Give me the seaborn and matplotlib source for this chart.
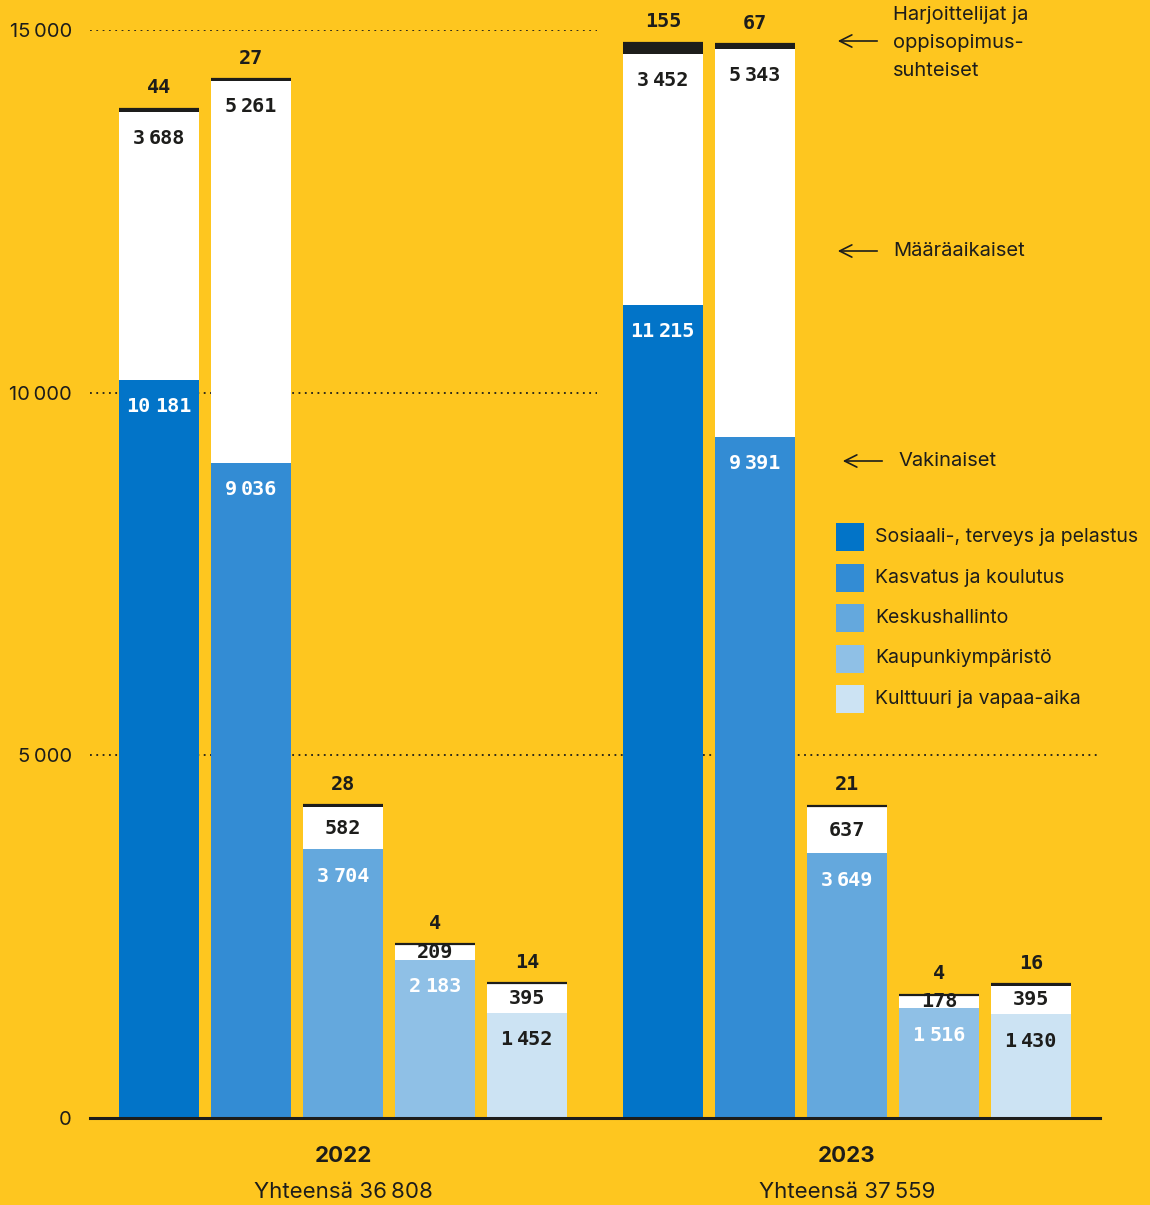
import numpy as np
import pandas as pd
import matplotlib
matplotlib.use("Agg")
import matplotlib.pyplot as plt
from matplotlib.patches import Rectangle
import seaborn as sns

# data
years = ["2022", "2023"]
totals_text = ["Yhteensä 36\u2009808", "Yhteensä 37\u2009559"]
categories = ["Sosiaali-, terveys ja pelastus", "Kasvatus ja koulutus",
              "Keskushallinto", "Kaupunkiympäristö", "Kulttuuri ja vapaa-aika"]
vak_2022 = [10181, 9036, 3704, 2183, 1452]
vak_2023 = [11215, 9391, 3649, 1516, 1430]
maa_2022 = [3688, 5261, 582, 209, 395]
maa_2023 = [3452, 5343, 637, 178, 395]
harj_2022 = [44, 27, 28, 4, 14]
harj_2023 = [155, 67, 21, 4, 16]

palette = ["#0274c8", "#338cd4", "#64a8dd", "#8fc0e6", "#cce3f3"]
BG = "#fec61f"
DARK = "#1d1d1b"

rows = []
for g, (vak, maa, harj) in enumerate([(vak_2022, maa_2022, harj_2022),
                                      (vak_2023, maa_2023, harj_2023)]):
    for i, cat in enumerate(categories):
        rows.append(dict(year=years[g], cat=cat, pos=g * 5.48 + i,
                         vak=vak[i], maa=maa[i], harj=harj[i]))
df = pd.DataFrame(rows)
df["white_top"] = df["vak"] + df["maa"]
df["total"] = df["white_top"] + df["harj"]

sns.set_style("white")
plt.rcParams["font.family"] = ["Inter", "DejaVu Sans"]

W, H = 1150, 1205
fig = plt.figure(figsize=(W / 100, H / 100), dpi=100, facecolor=BG)
ax = fig.add_axes([90 / W, 87 / H, 1010 / W, 1088 / H], facecolor=BG)

bw = 80 / 92
common = dict(data=df, x="pos", native_scale=True, width=bw, errorbar=None,
              saturation=1, linewidth=0, edgecolor="none", ax=ax)
sns.barplot(y="total", color=DARK, **common)
sns.barplot(y="white_top", color="white", **common)
sns.barplot(y="vak", hue="cat", palette=palette, dodge=False, legend=False, **common)

ax.set_xlim(-0.75, 10.23)
ax.set_ylim(0, 15000)

# black top line so the tiny segments stay visible
ax.hlines(df["total"], df["pos"] - bw / 2, df["pos"] + bw / 2, color=DARK, lw=1.6, zorder=3)

# dotted grid
gl = dict(color=DARK, lw=1.3, linestyles=(0, (1, 2.5)), zorder=0.5)
ax.hlines([10000, 15000], -0.75, 4.76, **gl)
ax.hlines(5000, -0.75, 10.23, **gl)

ax.set_yticks([0, 5000, 10000, 15000])
ax.set_yticklabels(["0", "5\u2009000", "10\u2009000", "15\u2009000"])
ax.tick_params(axis="y", length=0, pad=13, labelsize=14.5, labelcolor=DARK)
ax.set_xticks([])
ax.set_xlabel("")
ax.set_ylabel("")
for s in ["top", "right", "left"]:
    ax.spines[s].set_visible(False)
ax.spines["bottom"].set_color(DARK)
ax.spines["bottom"].set_linewidth(2.2)
ax.spines["bottom"].set_zorder(4)

px_per_unit = 1088 / 15000
FS = 14.5
CW = 0.602 * FS          # mono glyph advance in points
GAP = 0.38 * CW          # narrow thousands gap


def put_num(x, y, v, dy_px, color):
    kw = dict(textcoords="offset points", va="center", color=color, fontsize=FS,
              fontweight="bold", family=["DejaVu Sans Mono"], annotation_clip=False)
    dy = dy_px * 0.72
    if v < 1000:
        ax.annotate(str(v), (x, y), xytext=(0, dy), ha="center", **kw)
        return
    head, tail = str(v // 1000), f"{v % 1000:03d}"
    width = (len(head) + len(tail)) * CW + GAP
    ax.annotate(head, (x, y), xytext=(-width / 2, dy), ha="left", **kw)
    ax.annotate(tail, (x, y), xytext=(width / 2, dy), ha="right", **kw)


for _, r in df.iterrows():
    i = categories.index(r["cat"])
    put_num(r["pos"], r["vak"], r["vak"], -27, DARK if i == 4 else "white")
    off = min(26, r["maa"] * px_per_unit / 2)
    put_num(r["pos"], r["white_top"], r["maa"], -off, DARK)
    put_num(r["pos"], r["total"], r["harj"], 21, DARK)

# year labels below groups
for g, yr in enumerate(years):
    cx = df.loc[df["year"] == yr, "pos"].mean()
    ax.annotate(yr, (cx, 0), xytext=(0, -38 * 0.72), textcoords="offset points",
                ha="center", va="center", fontsize=16, fontweight="bold",
                color=DARK, annotation_clip=False)
    ax.annotate(totals_text[g], (cx, 0), xytext=(0, -74 * 0.72), textcoords="offset points",
                ha="center", va="center", fontsize=16, color=DARK,
                annotation_clip=False)


def fp(x, y):
    return (x / W, 1 - y / H)


arrow = dict(arrowstyle="->", lw=1.2, color=DARK, mutation_scale=22)
notes = [(["Harjoittelijat ja", "oppisopimus-", "suhteiset"], 893, 15, 41, 835),
         (["Määräaikaiset"], 893, 251, 251, 835),
         (["Vakinaiset"], 898, 461, 461, 840)]
for lines, tx, ty, ay, ax0 in notes:
    for k, line in enumerate(lines):
        fig.text(*fp(tx, ty + 28 * k), line, fontsize=14.5, color=DARK,
                 ha="left", va="center")
    ax.annotate("", xy=fp(ax0, ay), xytext=fp(ax0 + 45, ay),
                xycoords="figure fraction", textcoords="figure fraction",
                arrowprops=arrow)

# legend
for k, (cat, col) in enumerate(zip(categories, palette)):
    yc = 537 + 40.5 * k
    fig.patches.append(Rectangle(fp(836, yc + 14), 28 / W, 28 / H, facecolor=col,
                                 edgecolor="none", transform=fig.transFigure))
    fig.text(*fp(875, yc), cat, fontsize=14, color=DARK, ha="left", va="center")

fig.savefig("out.png", dpi=100, facecolor=BG)
